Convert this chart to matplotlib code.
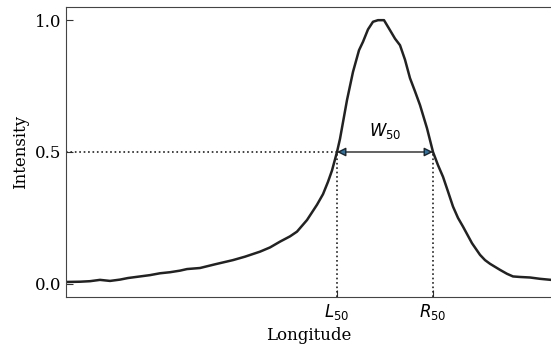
import matplotlib
matplotlib.use("Agg")
import matplotlib.pyplot as plt

# pulse profile (longitude in deg, normalised intensity)
lon = [-78.5, -75, -72.5, -70, -67.5, -65, -63, -60, -57.5, -55, -52.5, -50, -48.25,
       -45, -41.25, -36.75, -33.75, -30, -27.5, -25, -22.5, -20.75, -18.25, -15.75,
       -14.25, -13, -12, -10.75, -10, -8.25, -6.75, -5.25, -4.25, -3, -1.75, -0.5, 1,
       2.5, 3.75, 5, 6.25, 7.5, 8.75, 10, 11.75, 13.25, 14.5, 15.75, 17, 18.25, 19.5,
       20.75, 23, 25, 26.25, 27.5, 30, 31.75, 33.25, 35, 37.5, 40, 42.75]
intensity = [0.007, 0.008, 0.010, 0.015, 0.011, 0.016, 0.022, 0.028, 0.033, 0.040,
             0.044, 0.050, 0.056, 0.060, 0.074, 0.090, 0.103, 0.122, 0.138, 0.160,
             0.180, 0.198, 0.242, 0.300, 0.340, 0.387, 0.430, 0.500, 0.550, 0.697,
             0.804, 0.886, 0.918, 0.965, 0.994, 1.000, 1.000, 0.962, 0.930, 0.905,
             0.850, 0.780, 0.730, 0.678, 0.590, 0.500, 0.450, 0.406, 0.350, 0.293,
             0.250, 0.217, 0.154, 0.110, 0.090, 0.076, 0.053, 0.038, 0.028, 0.026,
             0.024, 0.019, 0.015]
L50, R50, half = -10.75, 13.25, 0.5
ytick_vals = [0.0, 0.5, 1.0]

plt.rcParams["font.family"] = "DejaVu Serif"
plt.rcParams["mathtext.fontset"] = "dejavusans"

fig = plt.figure(figsize=(5.51, 3.46), dpi=100)
ax = fig.add_axes([0.1198, 0.1416, 0.8802, 0.8382])
ax.plot(lon, intensity, color="#222222", lw=1.8)
ax.set_xlim(lon[0], lon[-1])
ax.set_ylim(-0.05, 1.05)

ax.plot([lon[0], L50], [half, half], ls=":", color="#222222", lw=1.2)
ax.plot([L50, L50], [-0.05, half], ls=":", color="#222222", lw=1.2)
ax.plot([R50, R50], [-0.05, half], ls=":", color="#222222", lw=1.2)
ax.annotate("", xy=(R50, half), xytext=(L50, half),
            arrowprops=dict(arrowstyle="<|-|>", fc="#1f77b4", ec="#222222", lw=1.0,
                            mutation_scale=13, shrinkA=0, shrinkB=0))
ax.text((L50 + R50) / 2, 0.58, r"$W_{50}$", ha="center", va="center", fontsize=12)

ax.set_yticks(ytick_vals)
ax.set_yticklabels([f"{v:.1f}" for v in ytick_vals])
ax.set_xticks([L50, R50])
ax.set_xticklabels([r"$L_{50}$", r"$R_{50}$"])
ax.tick_params(direction="in", labelsize=12, color="#333333", length=5)
ax.set_xlabel("Longitude", fontsize=12)
ax.set_ylabel("Intensity", fontsize=12)
for s in ("left", "bottom", "top"):
    ax.spines[s].set_color("#444444")
ax.spines["right"].set_visible(False)

fig.savefig("out.png", dpi=100)
